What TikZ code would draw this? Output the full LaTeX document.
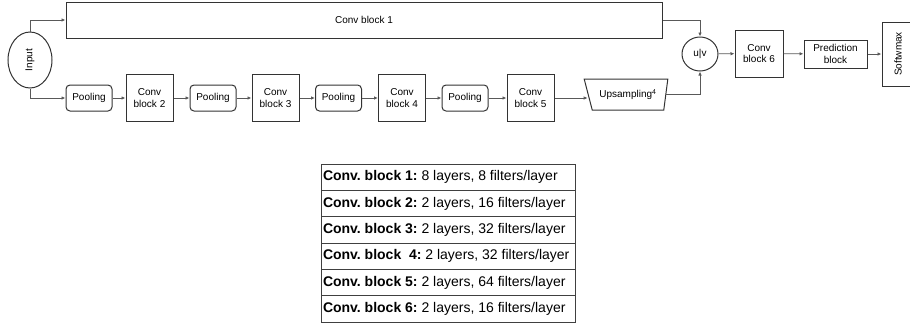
\documentclass[tikz,border=0pt]{standalone}
\usepackage{fontspec}
\setmainfont{Liberation Sans}
\usepackage{graphicx}
\usetikzlibrary{arrows.meta,shapes.geometric}

\begin{document}
\frenchspacing
\begin{tikzpicture}[x=1pt, y=-1pt, >={Latex[length=4pt,width=3.5pt]},
        font=\fontsize{10}{11.5}\selectfont,
        blk/.style={draw=black!80, line width=1pt, rectangle, align=center,
              minimum width=47pt, minimum height=47pt, inner sep=1pt},
        pool/.style={draw=black!80, line width=1pt, rectangle, rounded corners=4pt,
              minimum width=46pt, minimum height=26pt, inner sep=1pt},
        conn/.style={->, draw=black!65, line width=0.8pt},
        tabrow/.style={draw=black!75, line width=0.9pt, rectangle,
              minimum width=254pt, minimum height=26.33pt, inner sep=0pt,
              font=\fontsize{14}{16}\selectfont}]
        \useasboundingbox (0,0) rectangle (910,327);
        \node[draw=black!80, line width=1pt, ellipse, minimum width=44pt,
              minimum height=56pt, inner sep=0pt]
            (inp) at (30,60) {\rotatebox{90}{Input}};
        \node[blk, minimum width=596pt, minimum height=36pt]
            (cb1) at (364,20) {Conv block 1};
        %% downsampling path
        \node[pool] (pool1) at (89,98)    {Pooling};
        \node[blk]  (cb2)   at (149.5,98) {Conv\\block 2};
        \node[pool] (pool2) at (213,98)   {Pooling};
        \node[blk]  (cb3)   at (275.5,98) {Conv\\block 3};
        \node[pool] (pool3) at (338.5,98) {Pooling};
        \node[blk]  (cb4)   at (402,98)   {Conv\\block 4};
        \node[pool] (pool4) at (465,98)   {Pooling};
        \node[blk]  (cb5)   at (530.5,98) {Conv\\block 5};
        \node[draw=black!80, line width=1pt, trapezium, trapezium left angle=118,
              trapezium right angle=105, trapezium stretches=true,
              minimum width=84pt, minimum height=31pt, inner sep=1pt]
            (up) at (628,94.5) {Upsampling\textsuperscript{4}};
        %% merge and head
        \node[draw=black!80, line width=1pt, ellipse, minimum width=36pt,
              minimum height=34pt, inner sep=0pt]
            (uv) at (700,54) {u|v};
        \node[blk, minimum width=48pt] (cb6) at (759,53.5) {Conv\\block 6};
        \node[blk, minimum width=63pt, minimum height=28pt]
            (pred) at (835.5,54) {Prediction\\block};
        \node[blk, minimum width=32pt, minimum height=64pt]
            (smax) at (898,54) {\rotatebox{90}{Softwmax}};
        %% connectors
        \draw[conn] (inp.north) |- (cb1.west);
        \draw[conn] (inp.south) |- (pool1.west);
        \draw[conn] (pool1) -- (cb2);
        \draw[conn] (cb2)   -- (pool2);
        \draw[conn] (pool2) -- (cb3);
        \draw[conn] (cb3)   -- (pool3);
        \draw[conn] (pool3) -- (cb4);
        \draw[conn] (cb4)   -- (pool4);
        \draw[conn] (pool4) -- (cb5);
        \draw[conn] (cb5)   -- (cb5 -| up.west);
        \draw[conn] (cb1.east) -| (uv.north);
        \draw[conn] (up.east)  -| (uv.south);
        \draw[conn] (uv)   -- (cb6);
        \draw[conn] (cb6)  -- (pred);
        \draw[conn] (pred) -- (smax);
        %% table of blocks
        \node[tabrow] (row1) at (448,177.2) {\makebox[250pt][l]{\textbf{Conv. block 1:} 8 layers, 8 filters/layer}};
        \node[tabrow] (row2) at (448,203.5) {\makebox[250pt][l]{\textbf{Conv. block 2:} 2 layers, 16 filters/layer}};
        \node[tabrow] (row3) at (448,229.8) {\makebox[250pt][l]{\textbf{Conv. block 3:} 2 layers, 32 filters/layer}};
        \node[tabrow] (row4) at (448,256.2) {\makebox[250pt][l]{\textbf{Conv. block\ \ 4:} 2 layers, 32 filters/layer}};
        \node[tabrow] (row5) at (448,282.5) {\makebox[250pt][l]{\textbf{Conv. block 5:} 2 layers, 64 filters/layer}};
        \node[tabrow] (row6) at (448,308.8) {\makebox[250pt][l]{\textbf{Conv. block 6:} 2 layers, 16 filters/layer}};
    \end{tikzpicture}
\end{document}
